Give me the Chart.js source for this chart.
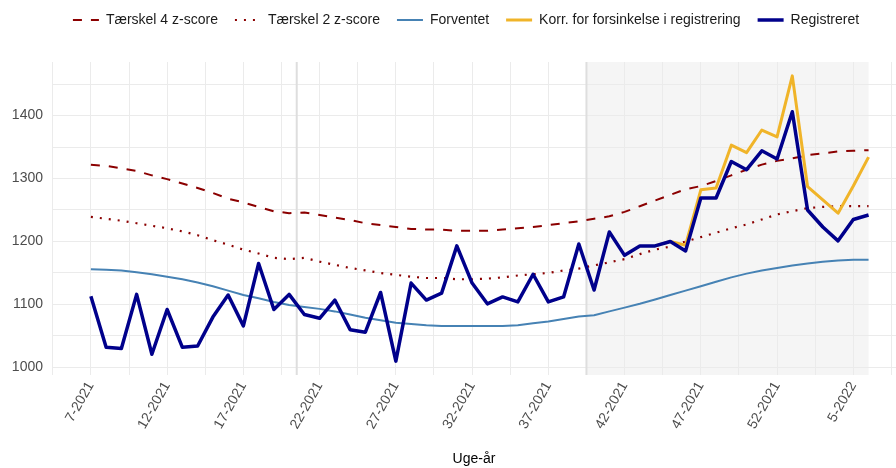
<!DOCTYPE html>
<html><head><meta charset="utf-8">
<script src="https://cdn.jsdelivr.net/npm/chart.js@4.4.1/dist/chart.umd.min.js"></script>
<style>html,body{margin:0;padding:0;background:#fff}#wrap{width:896px;height:468px;position:relative}</style>
</head><body><div id="wrap"><canvas id="c" width="896" height="468"></canvas></div>
<script>
// Categories: weeks 7-2021 .. 6-2022 (index 0..51)
const weeks = ['7-2021','8-2021','9-2021','10-2021','11-2021','12-2021','13-2021','14-2021','15-2021','16-2021',
 '17-2021','18-2021','19-2021','20-2021','21-2021','22-2021','23-2021','24-2021','25-2021','26-2021',
 '27-2021','28-2021','29-2021','30-2021','31-2021','32-2021','33-2021','34-2021','35-2021','36-2021',
 '37-2021','38-2021','39-2021','40-2021','41-2021','42-2021','43-2021','44-2021','45-2021','46-2021',
 '47-2021','48-2021','49-2021','50-2021','51-2021','52-2021','1-2022','2-2022','3-2022','4-2022','5-2022','6-2022'];

const taerskel4 = [1322,1320,1316,1312,1305,1299,1292,1285,1277,1268,1262,1255,1248,1245,1246,1242,1238,1234,1229,1226,
 1223,1220,1219,1219,1217,1217,1217,1219,1221,1223,1226,1229,1232,1236,1240,1247,1256,1265,1274,1283,
 1288,1296,1305,1314,1322,1328,1332,1337,1340,1343,1344,1345];
const taerskel2 = [1239,1236,1233,1229,1225,1221,1216,1210,1202,1195,1187,1181,1174,1172,1174,1168,1163,1158,1154,1150,
 1147,1144,1142,1142,1140,1140,1141,1143,1146,1148,1150,1154,1157,1162,1167,1172,1180,1187,1192,1200,
 1207,1214,1221,1227,1235,1243,1248,1253,1255,1256,1256,1256];
const forventet = [1156,1155,1154,1151,1148,1144,1140,1135,1129,1122,1115,1110,1104,1099,1096,1093,1089,1084,1079,1075,
 1071,1069,1067,1066,1066,1066,1066,1066,1067,1070,1073,1077,1081,1083,1089,1095,1101,1108,1115,1122,
 1129,1136,1143,1149,1154,1158,1162,1165,1168,1170,1171,1171];
const korrigeret = [null,null,null,null,null,null,null,null,null,null,null,null,null,null,null,null,null,null,null,null,
 null,null,null,null,null,null,null,null,null,null,null,null,null,null,null,null,null,1193,1200,1194,
 1282,1285,1353,1341,1377,1366,1463,1287,1266,1245,1288,1334];
const registreret = [1113,1032,1030,1116,1021,1092,1032,1034,1080,1115,1066,1165,1092,1116,1084,1078,1107,1060,1056,1119,
 1010,1134,1107,1118,1193,1134,1101,1112,1104,1148,1104,1112,1196,1123,1215,1178,1193,1193,1200,1185,
 1269,1269,1327,1314,1344,1331,1406,1250,1223,1201,1235,1242];

// Tick labels
const xTickIndex = [0,5,10,15,20,25,30,35,40,45,50];
const xTickLabels = ['7-2021','12-2021','17-2021','22-2021','27-2021','32-2021','37-2021','42-2021','47-2021','52-2021','5-2022'];
const xGridPos = [-2.5,0,2.5,5,7.5,10,12.5,15,17.5,20,22.5,25,27.5,30,32.5,35,37.5,40,42.5,45,47.5,50,52.5];
const yGridPos = [1000,1050,1100,1150,1200,1250,1300,1350,1400,1450];
const yTickLabels = [1000,1100,1200,1300,1400];
const markerLines = [13.5, 32.5];
const shade = [32.5, 51];

Chart.defaults.font.family = "'Liberation Sans', Arial, sans-serif";

const mk = (label, data, color, width, dash, order) => ({
  label, data: data.map((v,i)=>({x:i, y:v})), borderColor: color, backgroundColor: color,
  borderWidth: width, borderDash: dash, pointRadius: 0, pointHoverRadius: 0, tension: 0,
  borderJoinStyle: 'round', spanGaps: false, order, fill: false
});

const bgPlugin = {
  id: 'bgPlugin',
  beforeLayout(chart) {
    const lg = chart.legend;
    if (lg && !lg._patched) {
      const f = lg.fit.bind(lg);
      lg.fit = function(){ f(); this.height = 66; };
      lg._patched = true;
    }
  },
  afterLayout(chart) {
    const lg = chart.legend;
    if (lg) { lg.left -= 8; lg.right -= 8; }
  },
  beforeDraw(chart) {
    const {ctx, chartArea: a, scales: {x}} = chart;
    ctx.save();
    ctx.fillStyle = '#f5f5f5';
    const x0 = x.getPixelForValue(shade[0]), x1 = x.getPixelForValue(shade[1]);
    ctx.fillRect(x0, a.top, x1 - x0, a.bottom - a.top);
    ctx.restore();
  },
  beforeDatasetsDraw(chart) {
    const {ctx, chartArea: a, scales: {x}} = chart;
    ctx.save();
    ctx.strokeStyle = '#dedede';
    ctx.lineWidth = 2;
    markerLines.forEach(m => {
      const px = x.getPixelForValue(m);
      ctx.beginPath(); ctx.moveTo(px, a.top); ctx.lineTo(px, a.bottom); ctx.stroke();
    });
    ctx.restore();
  }
};

const defaultLabels = Chart.defaults.plugins.legend.labels.generateLabels;

new Chart(document.getElementById('c'), {
  type: 'line',
  data: { datasets: [
    mk('Tærskel 4 z-score', taerskel4, '#8B0000', 2, [9,9], 4),
    mk('Tærskel 2 z-score', taerskel2, '#8B0000', 2.2, [2,7], 3),
    mk('Forventet', forventet, '#4682B4', 2, [], 2),
    mk('Korr. for forsinkelse i registrering', korrigeret, '#F0B429', 3, [], 1),
    mk('Registreret', registreret, '#00008B', 3.5, [], 0)
  ]},
  options: {
    responsive: false, animation: false, devicePixelRatio: 1,
    layout: { padding: { top: -4, left: 0, right: 0, bottom: 0 } },
    plugins: {
      tooltip: { enabled: false },
      legend: {
        position: 'top', align: 'center', fullSize: false,
        labels: {
          usePointStyle: true, pointStyle: 'line', pointStyleWidth: 26, padding: 17,
          color: '#1a1a1a', font: { size: 14 },
          sort: (a, b) => a.datasetIndex - b.datasetIndex,
          generateLabels: chart => defaultLabels(chart).map(it => {
            const ds = chart.data.datasets[it.datasetIndex];
            it.lineDash = ds.borderDash; it.lineWidth = ds.borderWidth;
            it.strokeStyle = ds.borderColor; it.lineCap = 'butt';
            return it;
          })
        }
      }
    },
    scales: {
      x: {
        type: 'linear', min: -2.55, max: 52.8,
        afterBuildTicks: s => { s.ticks = xGridPos.map(v => ({ value: v })); },
        ticks: {
          autoSkip: false, maxRotation: 60, minRotation: 60, padding: 4, color: '#4d4d4d', font: { size: 14 },
          callback: v => { const k = xTickIndex.indexOf(v); return k >= 0 ? xTickLabels[k] : ''; }
        },
        grid: { color: '#ebebeb', drawTicks: false, lineWidth: 1 },
        border: { display: false },
        title: { display: true, text: 'Uge-år', color: '#000', font: { size: 14 }, padding: { top: 0, bottom: 0 } },
        afterFit: s => { s.height = 93; s.paddingLeft = 0; s.paddingRight = 0; }
      },
      y: {
        type: 'linear', min: 988, max: 1485,
        afterBuildTicks: s => { s.ticks = yGridPos.map(v => ({ value: v })); },
        ticks: { color: '#4d4d4d', font: { size: 14 }, padding: 9,
                 callback: v => yTickLabels.includes(v) ? String(v) : '' },
        grid: { color: '#ebebeb', drawTicks: false, lineWidth: 1 },
        border: { display: false },
        afterFit: s => { s.width = 52; s.paddingTop = 0; s.paddingBottom = 0; }
      }
    }
  },
  plugins: [bgPlugin]
});
</script>
</body></html>
